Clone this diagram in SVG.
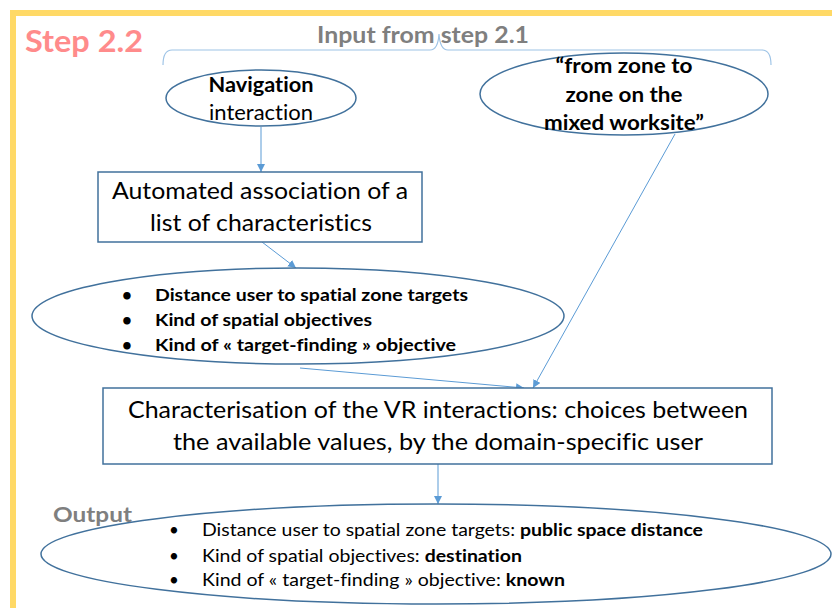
<svg xmlns="http://www.w3.org/2000/svg" width="832" height="608" viewBox="0 0 832 608">
<defs>
<style>
.node{fill:#fff;stroke:#41719C;stroke-width:1.5}
.conn{fill:none;stroke:#5B9BD5;stroke-width:1}
.t{font-family:Lato,"Liberation Sans","Open Sans",sans-serif;fill:#000;font-variant-ligatures:none}
.b{font-weight:bold}
</style>
<marker id="ah" viewBox="0 0 10 10" refX="10" refY="5" markerWidth="8" markerHeight="8" markerUnits="userSpaceOnUse" orient="auto">
<path d="M0,0 L10,5 L0,10 z" fill="#5B9BD5"/>
</marker>
</defs>
<rect width="832" height="608" fill="#fff"/>
<rect x="13" y="13" width="840" height="620" fill="none" stroke="#FFD966" stroke-width="6"/>
<text x="25" y="52" class="t b" font-size="31" style="fill:#FF8B8B" textLength="118" lengthAdjust="spacingAndGlyphs">Step 2.2</text>
<text x="317" y="43" class="t b" font-size="22" style="fill:#7F7F7F" textLength="212" lengthAdjust="spacingAndGlyphs">Input from step 2.1</text>
<path d="M163,65 Q163,50 172,50 L430,50 Q438,50 439,34 Q440,50 448,50 L762,50 Q771,50 771,65" fill="none" stroke="#9DC3E6" stroke-width="1.2"/>
<g id="connectors">
<line class="conn" x1="261" y1="127" x2="261" y2="172" marker-end="url(#ah)"/>
<line class="conn" x1="262" y1="242" x2="296" y2="268" marker-end="url(#ah)"/>
<line class="conn" x1="675" y1="134" x2="533" y2="388" marker-end="url(#ah)"/>
<line class="conn" x1="300" y1="368" x2="524" y2="388" marker-end="url(#ah)"/>
<line class="conn" x1="438" y1="464" x2="438" y2="504" marker-end="url(#ah)"/>
</g>
<g id="nav">
<ellipse class="node" cx="261" cy="98" rx="95" ry="28"/>
<text x="261" y="92" class="t b" font-size="21" text-anchor="middle" textLength="105" lengthAdjust="spacingAndGlyphs">Navigation</text>
<text x="261" y="120" class="t" font-size="21" text-anchor="middle" textLength="104" lengthAdjust="spacingAndGlyphs">interaction</text>
</g>
<g id="zone">
<ellipse class="node" cx="624" cy="94" rx="144" ry="41"/>
<text x="624" y="73" class="t b" font-size="21" text-anchor="middle" textLength="137" lengthAdjust="spacingAndGlyphs">“from zone to</text>
<text x="624" y="102" class="t b" font-size="21" text-anchor="middle" textLength="117" lengthAdjust="spacingAndGlyphs">zone on the</text>
<text x="624" y="130" class="t b" font-size="21" text-anchor="middle" textLength="160" lengthAdjust="spacingAndGlyphs">mixed worksite”</text>
</g>
<g id="auto">
<rect class="node" x="98" y="172" width="324" height="70"/>
<text x="260" y="199" class="t" font-size="23" text-anchor="middle" textLength="296" lengthAdjust="spacingAndGlyphs">Automated association of a</text>
<text x="261" y="231" class="t" font-size="23" text-anchor="middle" textLength="222" lengthAdjust="spacingAndGlyphs">list of characteristics</text>
</g>
<g id="chars">
<ellipse class="node" cx="298" cy="316" rx="266" ry="48"/>
<g class="t b" font-size="17">
<text x="122" y="301">•</text>
<text x="155" y="301" textLength="313" lengthAdjust="spacingAndGlyphs">Distance user to spatial zone targets</text>
<text x="122" y="326">•</text>
<text x="155" y="326" textLength="217" lengthAdjust="spacingAndGlyphs">Kind of spatial objectives</text>
<text x="122" y="351">•</text>
<text x="155" y="351" textLength="301" lengthAdjust="spacingAndGlyphs">Kind of « target-finding » objective</text>
</g>
</g>
<g id="charac">
<rect class="node" x="103" y="388" width="669" height="76"/>
<text x="438" y="418" class="t" font-size="23" text-anchor="middle" textLength="620" lengthAdjust="spacingAndGlyphs">Characterisation of the VR interactions: choices between</text>
<text x="438" y="450" class="t" font-size="23" text-anchor="middle" textLength="530" lengthAdjust="spacingAndGlyphs">the available values, by the domain-specific user</text>
</g>
<g id="output">
<ellipse class="node" cx="436" cy="554" rx="395" ry="50"/>
<text x="53" y="522" class="t b" font-size="21" style="fill:#7F7F7F" textLength="79" lengthAdjust="spacingAndGlyphs">Output</text>
<g class="t" font-size="17">
<text x="169" y="536">•</text>
<text x="202" y="536" textLength="501" lengthAdjust="spacingAndGlyphs">Distance user to spatial zone targets: <tspan class="b">public space distance</tspan></text>
<text x="169" y="562">•</text>
<text x="202" y="562" textLength="320" lengthAdjust="spacingAndGlyphs">Kind of spatial objectives: <tspan class="b">destination</tspan></text>
<text x="169" y="586">•</text>
<text x="202" y="586" textLength="363" lengthAdjust="spacingAndGlyphs">Kind of « target-finding » objective: <tspan class="b">known</tspan></text>
</g>
</g>
</svg>
